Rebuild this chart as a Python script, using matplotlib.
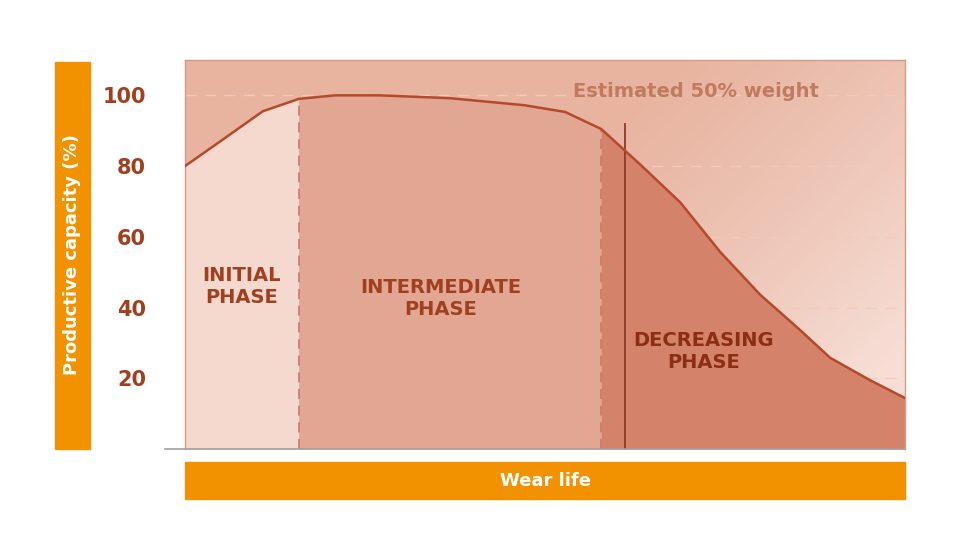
import matplotlib
matplotlib.use("Agg")
import matplotlib.pyplot as plt
import numpy as np
from matplotlib.patches import Rectangle

wear_x = [0, 4.9, 10.8, 15.8, 20.8, 27.1, 36.8, 47.2, 52.8, 57.8, 63.2, 68.8, 74.3, 79.9, 85.4, 89.6, 95.1, 100]
capacity = [80, 87, 95.5, 99, 100, 100, 99.2, 97.2, 95.3, 90.5, 80.5, 69.7, 55.8, 43.6, 33.7, 25.8, 19.5, 14.4]
phase_bounds = [15.8, 57.8]
weight_50_x = 61.1
yticks = [20, 40, 60, 80, 100]
phase_labels = ["INITIAL\nPHASE", "INTERMEDIATE\nPHASE", "DECREASING\nPHASE"]

W, H = 980, 551
fig = plt.figure(figsize=(W/100, H/100), dpi=100)
fig.patch.set_facecolor("white")
L, R, T, B = 185, 905, 60, 449
ax = fig.add_axes([L/W, 1-B/H, (R-L)/W, (B-T)/H])
ax.set_xlim(0, 100)
ax.set_ylim(0, 110)

txt = "#a0401f"
xx, yy = np.meshgrid(np.linspace(0, 1, 200), np.linspace(0, 1, 200))
d = np.clip(((xx - 0.55) / 0.45) * 0.6 + (yy - 0.2) / 0.8 * 0.6, 0, 1) ** 1.3
cmap = matplotlib.colors.LinearSegmentedColormap.from_list("g", ["#e8b4a0", "#f6ded5"])
ax.imshow(d, extent=[0, 100, 0, 110], origin="upper", cmap=cmap, aspect="auto", zorder=0)

xs = np.array(wear_x); ys = np.array(capacity)
def fill_range(a, b, color):
    xi = np.linspace(a, b, 200)
    yi = np.interp(xi, xs, ys)
    ax.fill_between(xi, 0, yi, color=color, lw=0, zorder=1)
fill_range(0, phase_bounds[0], "#f5d8ce")
fill_range(phase_bounds[0], phase_bounds[1], "#e1a792")
fill_range(phase_bounds[1], 100, "#d4826a")

for y in yticks:
    ax.axhline(y, color="#f0cbbd", lw=1, ls=(0, (8, 6)), zorder=0.5)
for b in phase_bounds:
    ax.plot([b, b], [0, np.interp(b, xs, ys)], color="#c87a62", lw=1.2, ls=(0, (6, 4)), zorder=2)
ax.plot([weight_50_x, weight_50_x], [0, 92], color="#8a3a22", lw=1.3, zorder=3)
ax.plot(xs, ys, color="#b5492c", lw=1.8, zorder=3)

ax.text(7.9, 46, phase_labels[0], ha="center", va="center", fontsize=14, fontweight="bold", color=txt, zorder=4)
ax.text(35.5, 42.5, phase_labels[1], ha="center", va="center", fontsize=14, fontweight="bold", color=txt, zorder=4)
ax.text(72, 27.5, phase_labels[2], ha="center", va="center", fontsize=14, fontweight="bold", color="#8a2e14", zorder=4)
ax.text(71, 101, "Estimated 50% weight", ha="center", va="center", fontsize=14, fontweight="bold", color="#c07a60", zorder=4)

ax.set_yticks(yticks)
ax.set_yticklabels([str(v) for v in yticks], fontsize=15, fontweight="bold", color=txt)
ax.tick_params(axis="y", length=0, pad=28)
ax.set_xticks([])
for s in ["top", "right", "left"]:
    ax.spines[s].set_color("#d49a84"); ax.spines[s].set_linewidth(1)
ax.spines["bottom"].set_visible(False)
fig.add_artist(plt.Line2D([165/W, R/W], [1-B/H, 1-B/H], color="#a0a0a0", lw=1.2))

orange = "#f39200"
fig.add_artist(Rectangle((55/W, 1-449/H), 35/W, 387/H, color=orange, transform=fig.transFigure))
fig.text(72/W, 1-255/H, "Productive capacity (%)", rotation=90, ha="center", va="center", fontsize=13, fontweight="bold", color="white")
fig.add_artist(Rectangle((L/W, 1-499/H), (R-L)/W, 37/H, color=orange, transform=fig.transFigure))
fig.text((L+R)/2/W, 1-481/H, "Wear life", ha="center", va="center", fontsize=13, fontweight="bold", color="white")

fig.savefig("out.png", dpi=100)
